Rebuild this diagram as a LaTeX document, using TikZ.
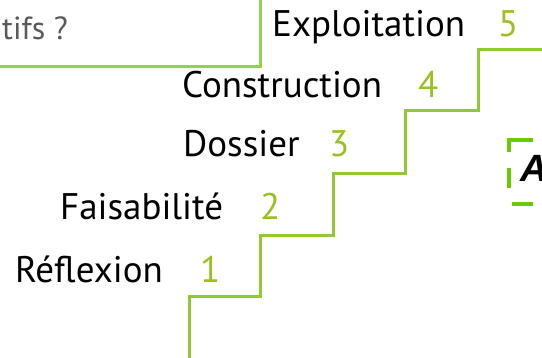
\documentclass[tikz,border=0pt]{standalone}
\usepackage{fontspec}
\setmainfont{PT Sans}
\newfontfamily\afont{Liberation Sans}
\definecolor{stairgreen}{RGB}{146,200,50}
\definecolor{boxgreen}{RGB}{146,208,80}
\definecolor{digitgreen}{RGB}{155,192,35}
\definecolor{dashgreen}{RGB}{102,204,0}
\definecolor{graytext}{RGB}{89,89,89}
\tikzset{
  lbl/.style={anchor=base west, inner sep=0pt, text=black, font=\fontsize{37}{40}\selectfont},
  num/.style={anchor=base west, inner sep=0pt, text=digitgreen, font=\fontsize{37}{40}\selectfont},
  stair/.style={draw=stairgreen, line width=3pt, line join=miter},
  frame/.style={draw=boxgreen, line width=3pt},
  dashseg/.style={draw=dashgreen, line width=4pt},
}
\begin{document}
\begin{tikzpicture}[x=1pt,y=-1pt]
\useasboundingbox (0,0) rectangle (542,358);
\clip (0,0) rectangle (542,358);
% top-left box
\draw[frame] (-20,-20) rectangle (260,67);
\node[anchor=base east, inner sep=0pt, text=graytext, font=\fontsize{32}{36}\selectfont] (q) at (68,40) {tifs ?};
% stairs
\draw[stair] (189,362) -- (189,297) -- (260,297) -- (260,236) -- (333,236) -- (333,174) -- (405,174) -- (405,111) -- (478,111) -- (478,50) -- (546,50);
% labels
\node[lbl] (t1) at (15,283) {Réflexion};
\node[num] (n1) at (200,283) {1};
\node[lbl] (t2) at (60,220) {Faisabilité};
\node[num] (n2) at (260,220) {2};
\node[lbl] (t3) at (183,157) {Dossier};
\node[num] (n3) at (329,157) {3};
\node[lbl] (t4) at (182,98) {Construction};
\node[num] (n4) at (418,98) {4};
\node[lbl] (t5) at (272,37) {Exploitation};
\node[num] (n5) at (498,37) {5};
% dashed frame (partly visible)
\draw[dashseg] (509,152) -- (509,140) -- (533,140);
\draw[dashseg] (509,168) -- (509,188);
\draw[dashseg] (512,204) -- (533,204);
\node[anchor=base west, inner sep=0pt, font=\afont\bfseries\itshape\fontsize{38}{40}\selectfont] (a) at (520,182) {A};
\end{tikzpicture}
\end{document}
